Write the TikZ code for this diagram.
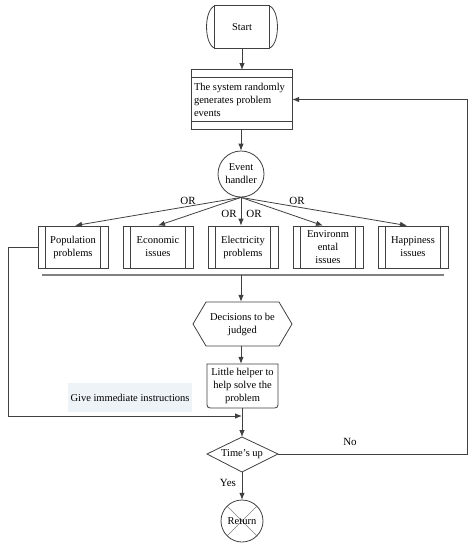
\documentclass[tikz,border=0pt]{standalone}
\usepackage{fontspec}
\setmainfont{Liberation Serif}
\usetikzlibrary{arrows.meta}
\definecolor{ln}{HTML}{404040}
\definecolor{note}{HTML}{EEF3F8}
\tikzset{
  base/.style={font=\fontsize{10.5}{13}\selectfont, text=black, inner sep=0pt, align=center},
  proc/.style={base, minimum width=70pt, minimum height=42pt, draw=ln, line width=0.8pt},
  arr/.style={draw=ln, line width=0.8pt, -{Latex[length=7pt,width=5.5pt]}},
  ln/.style={draw=ln, line width=0.8pt},
  lbl/.style={base, font=\fontsize{11}{13}\selectfont},
}
\begin{document}
\begin{tikzpicture}[x=1pt,y=-1pt]
\useasboundingbox (0,0) rectangle (473,550);
% Start terminator
\node[base, minimum width=54pt, minimum height=42pt] (start) at (242,27) {Start};
\draw[ln] (start.north west) -- (start.north east) -- (start.south east) -- (start.south west) -- cycle;
\draw[ln] (start.north west) .. controls ++(-11,4) and ([xshift=-11pt,yshift=4pt]start.south west) .. (start.south west);
\draw[ln] (start.north east) .. controls ++(11,4) and ([xshift=11pt,yshift=4pt]start.south east) .. (start.south east);
\draw[arr] (start.south) -- (242,70);
% system box
\node[base, minimum width=100pt, minimum height=59pt] (sys) at (242,99.5) {};
\draw[ln] (sys.north west) rectangle (sys.south east);
\node[base, align=left, anchor=west] (systxt) at ([xshift=2pt]sys.west) {The system randomly\\generates problem\\events};
\draw[ln] ([yshift=-8pt]sys.north west) -- ([yshift=-8pt]sys.north east);
\draw[ln] ([yshift=8pt]sys.south west) -- ([yshift=8pt]sys.south east);
% event handler
\node[base, circle, draw=ln, line width=0.8pt, minimum size=46pt] (eh) at (241,174) {Event\\handler};
\draw[arr] (sys.south -| eh) -- (eh.north);
% process boxes
\node[proc] (p1) at (73,247) {Population\\problems};
\node[proc] (p2) at (158,247) {Economic\\issues};
\node[proc] (p3) at (243,247) {Electricity\\problems};
\node[proc] (p4) at (328,247) {Environm\\ental\\issues};
\node[proc] (p5) at (413,247) {Happiness\\issues};
\foreach \p in {p1,p2,p3,p4,p5}{
  \draw[ln] ([xshift=8pt]\p.north west) -- ([xshift=8pt]\p.south west);
  \draw[ln] ([xshift=-8pt]\p.north east) -- ([xshift=-8pt]\p.south east);
}
\draw[arr] (eh.south) -- ([xshift=2pt]p1.north);
\draw[arr] (eh.south) -- (p2.north);
\draw[arr] (eh.south) -- (eh.south |- p3.north);
\draw[arr] (eh.south) -- ([xshift=-5pt]p4.north);
\draw[arr] (eh.south) -- ([xshift=-6pt]p5.north);
\node[lbl] (or1) at (188,201) {OR};
\node[lbl] (or2) at (229,214) {OR};
\node[lbl] (or3) at (254,214) {OR};
\node[lbl] (or4) at (297,201) {OR};
% bar
\draw[draw=gray, line width=1.4pt] (42,275) -- (444,275);
\coordinate (bar) at (241,275);
% decision hexagon
\node[base, minimum width=86pt, minimum height=44pt] (dec) at (242.5,324) {Decisions to be\\judged};
\draw[ln] (193,324) -- (206,302) -- (279,302) -- (292,324) -- (279,346) -- (206,346) -- cycle;
\draw[arr] (bar) -- (bar |- dec.north);
% helper
\node[base, minimum width=71pt, minimum height=44pt] (help) at (242.5,386) {Little helper to\\help solve the\\problem};
\draw[ln] (207,364) -- (278,364) -- (278,401) .. controls (278,408) .. (271,408) -- (214,408) .. controls (207,408) .. (207,401) -- cycle;
\draw[arr] (dec.south -| bar) -- (help.north -| bar);
% note
\node[base, fill=note, minimum width=124pt, minimum height=29pt] (note) at (130,397.5) {Give immediate instructions};
% time's up diamond
\node[base, minimum width=60pt, minimum height=30pt] (tu) at (242,454) {Time’s up};
\draw[ln] (207,454) -- (242,437) -- (278,454) -- (242,472) -- cycle;
\coordinate (join) at (242,416);
\draw[arr] (help.south -| tu) -- (242,437);
\draw[arr] (p1.west) -- (8,247) |- (join);
% return
\node[base, circle, minimum size=42pt] (ret) at (242,521) {};
\draw[draw=gray, line width=0.6pt] ([shift={(-14.8,-14.8)}]ret.center) -- ([shift={(14.8,14.8)}]ret.center);
\draw[draw=gray, line width=0.6pt] ([shift={(14.8,-14.8)}]ret.center) -- ([shift={(-14.8,14.8)}]ret.center);
\draw[ln] (ret) circle (21pt);
\node[base] at (ret.center) {Return};
\draw[arr] (242,472) -- (ret.north);
\node[lbl] (yes) at (228,483) {Yes};
% no loop
\draw[arr] (278,454) -- (467,454) |- (sys.east);
\node[lbl] (no) at (350,442) {No};
\end{tikzpicture}
\end{document}
